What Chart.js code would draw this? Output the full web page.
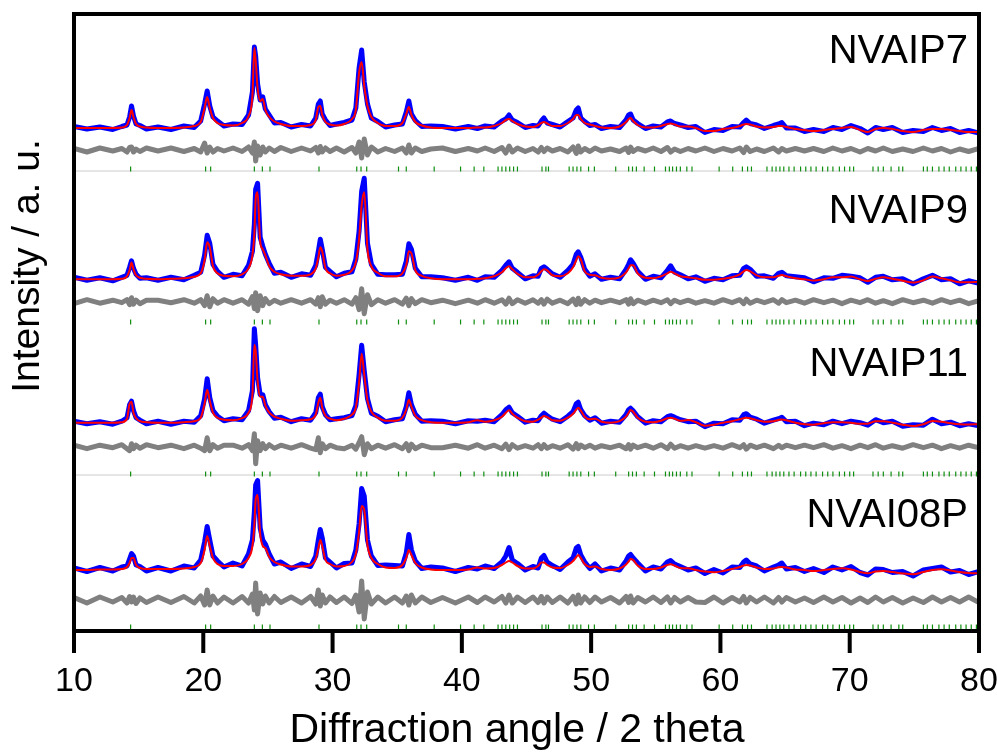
<!DOCTYPE html>
<html>
<head>
<meta charset="utf-8">
<script src="https://cdn.jsdelivr.net/npm/chart.js@4.4.1/dist/chart.umd.min.js"></script>
<style>
  html, body { margin: 0; padding: 0; background: #fff; }
  canvas { display: block; }
</style>
</head>
<body>
<canvas id="myChart" width="997" height="753"></canvas>
<script>
// 2 theta grid shared by all four refinements
const angle = [
  10, 11, 12, 13, 13.7, 14.1, 14.3, 14.45, 14.6, 14.8, 15.1, 15.6,
  16.5, 17.5, 18.5, 19.3, 19.8, 20.1, 20.3, 20.5, 20.75, 21.1, 21.6,
  22.3, 23.0, 23.5, 23.8, 23.95, 24.05, 24.2, 24.4, 24.6, 24.8, 25.1, 25.5, 26.0,
  26.8, 27.6, 28.3, 28.7, 28.9, 29.05, 29.2, 29.45, 29.8, 30.3,
  30.9, 31.5, 31.8, 32.05, 32.25, 32.45, 32.7, 33.0, 33.5, 34.1,
  34.8, 35.4, 35.7, 35.9, 36.1, 36.4, 36.9, 37.6,
  38.5, 39.5, 40.5, 41.2, 41.8, 42.5, 43.1, 43.4, 43.65, 43.9, 44.3, 44.9,
  45.5, 45.9, 46.15, 46.35, 46.6, 47.0, 47.6, 48.2, 48.6, 48.85, 49.0, 49.2, 49.5, 49.9, 50.3, 50.8,
  51.5, 52.2, 52.7, 52.9, 53.05, 53.25, 53.6, 54.2, 54.8, 55.4, 55.9, 56.15, 56.45, 56.9, 57.5, 58.1,
  58.8, 59.5, 60.2, 60.9, 61.5, 61.8, 62.0, 62.3, 62.8, 63.4, 64.1, 64.5, 64.75, 65.1, 65.8,
  66.5, 67.2, 68.0, 68.7, 69.4, 70.1, 70.8, 71.4, 72.0, 72.6, 73.3, 74.1, 74.9, 75.7, 76.4, 77.1, 77.8, 78.5, 79.2, 80
];

const sampleNames = ['NVAIP7', 'NVAIP9', 'NVAIP11', 'NVAI08P'];
const angleTicks = [10, 20, 30, 40, 50, 60, 70, 80];

// NVAIP7
const p7Obs = [
  1.5, -1, 1, -1.5, 1.5, 3, 11, 22, 12, 4, 2.5, -1,
  1, -1.5, 2, 0.5, 7, 24, 37, 22, 11, 7, 2,
  4, 3.5, 13, 36, 81, 72, 44, 28, 31, 19, 13, 5, 5.5,
  1, 3.5, 2, 10, 24, 27, 14, 8, 2.5, 4,
  5.5, 8, 20, 60, 78, 46, 24, 10, 6.5, 1,
  3, 4, 16, 27, 14, 7.5, 1.5, 2,
  1.5, -1, 1.5, -0.5, 2, 1, 7, 9, 13, 8, 5.5, 0.5,
  2.5, 2, 7, 10, 5, 3.5, 1, 6.5, 10, 18, 20, 10, 6.5, 2.5, 3.5, -0.5,
  1.5, 0.5, 8, 13, 14, 8, 4.5, -0.5, 2, 1, 6, 7, 4.5, 3, 0.5, 1.5,
  -4.5, -1.5, -2.5, 1.5, 1, 5.5, 8, 4.5, 3, -0.5, 2.5, 4, 5.5, 0, 0,
  -3.5, -1.5, -3.5, 0.5, -1.5, 2.5, -0.5, -5, 0.5, -1.5, 0.5, -4.5, -2.5, -3.5, 0.5, -2.5, -0.5, -4.5, -2.5, -5
];
const p7Calc = [
  0, 0, 0, 0, 0.5, 3, 10, 18, 11, 4, 1.5, 0.5,
  0, 0, 0.5, 2, 6, 20, 31, 20, 10, 5, 3,
  2.5, 5, 12, 32, 80, 68, 40, 27, 29, 18, 11, 6.5, 4,
  2, 2, 3, 8, 21, 22, 13, 6, 3.5, 2.5,
  4, 9, 18, 55, 66, 42, 22, 11, 5, 2,
  2, 5, 14, 21, 13, 6, 2.5, 0.5,
  0, 0, 0, 0.5, 0.5, 2, 5, 8, 9, 7, 4, 1.5,
  1, 3, 5, 6, 4.5, 2, 2, 5, 9, 13, 13, 9, 5, 3.5, 2, 0.5,
  0, 1.5, 6, 9, 10, 7, 3, 0.5, 0.5, 2, 4, 4.5, 3.5, 1.5, 1.5, 0,
  -3, -3, -1, 0, 2, 3.5, 4, 3.5, 1.5, 0.5, 1, 2, 2, 1, -1,
  -2, -3, -2, -1, 0, 1, -2, -4, -1, 0, -1, -3, -4, -2, -1, -1, -2, -3, -4, -4
];
const p7Diff = [
  1.5, -2, 2, -1, 1.5, -2, 2.5, 3, -2, 1, -1.5, 2,
  -1, 2, -1.5, 1.5, -2, 7, -3, 3, -2, 1.5, -1,
  2, -1.5, 3, -3, 8, -11, 4, -5, 3, -2, 2, -1.5, 2.5,
  -1.5, 2, -1, 2.5, -3, 3.5, -2, 2, -1.5, 2,
  -2, 2.5, -3, 8, -8, 11, -5, 3, -2, 1.5,
  -1.5, 2, -3, 5, -3, 2, -1.5, 1,
  2, -1.5, 1.5, -1, 2, -1.5, 2.5, -3, 4, -2, 2, -1.5,
  1.5, -2, 2.5, -1.5, 2, -1, 1.5, -2, 3, -3.5, 4, -2, 1.5, -1.5, 2, -1,
  1, -1.5, 2, -2.5, 3, -1.5, 1.5, -1, 2, -1.5, 2.5, -2, 1, -1.5, 1.5, -1,
  2, -1.5, 1.5, -1, 2, -2.5, 3, -1.5, 1, -1.5, 2, -2, 1.5, -1, 1.5,
  -1, 1.5, -1.5, 2, -1, 1.5, -2, 1.5, -1, 2, -1.5, 1, -1.5, 2, -1, 1.5, -2, 1, -1.5, 1.5
];

// NVAIP9
const p9Obs = [
  2, -1, 1.5, -1.5, 2, 4, 12, 18.5, 11, 5, 1, 1.5,
  -1, 2, -0.5, 4, 7, 24, 44, 36, 15, 8, 2,
  5, 3.5, 14, 28, 55, 90, 96, 42, 33, 25, 16, 6, 7,
  2, 5.5, 4, 14, 28, 40, 30, 12, 8, 2.5,
  6, 7.5, 20, 48, 88, 101, 36, 15, 5, 4.5,
  4.5, 5, 18, 35.5, 30, 11, 2.5, 2.5,
  1.5, -1, 2, -1, 2.5, 2, 9, 14, 17.5, 11, 7, 0.5,
  3.5, 3, 11, 12.5, 10, 5.5, 2, 9, 15, 25, 27.5, 22, 10, 3, 5.5, 0,
  2, 0.5, 10, 15, 19.5, 16, 8, 0, 3, 1.5, 9, 13.5, 7, 4.5, 0.5, 2.5,
  -2, 1, -0.5, 3.5, 4, 11, 12.5, 10, 3, 3.5, 1, 6, 7, 3.5, 2.5,
  1.5, -2.5, 1.5, 1, 4, 3, 1.5, -3, 2, 3, -0.5, 0.5, -4.5, 0.5, 4, -0.5, 0.5, -4.5, -1.5, -4
];
const p9Calc = [
  0, 0, 0, 0, 0.5, 3, 9, 16.7, 10, 4, 1.5, 0.5,
  0, 0.5, 1, 2.5, 6, 19, 37, 32, 13, 6, 3.5,
  3, 5, 11, 24, 45, 80, 87, 38, 30, 24, 13, 7.5, 5,
  3.5, 3.5, 5, 11, 22, 32, 28, 11, 6, 3.5,
  4.5, 9, 17, 40, 74, 87, 30, 13, 6.5, 3,
  3, 6, 14, 28, 26, 9, 3.5, 1,
  0, 0, 0, 0.5, 1, 3, 7, 11, 13, 10, 5.5, 2,
  2, 4.5, 8, 10, 9, 4, 3, 6, 12, 19, 23, 20, 8, 4.5, 4, 1.5,
  0.5, 2, 7, 11, 14, 14, 6, 1.5, 1, 3, 6, 7.5, 6, 3, 2, 1,
  -0.5, -0.5, 0.5, 2, 5, 8, 9.3, 8, 4, 2, 2, 3.5, 4.3, 3, 1,
  0, -1.3, 0, 2, 2, 2.7, 0, -1.7, 0.5, 2, 0.5, -1.5, -3.3, -1, 2.7, 1, -1, -3, -3, -2.5
];
const p9Diff = [
  -2, 2, -1.5, 1.5, -1, 2, -3, 4, -2.5, 1.5, -2, 1.5,
  1.5, -1, 2, -1.5, 2, -4, 6, -5, 3, -1.5, 2,
  -1.5, 2, -2.5, 5, -7, 9, -9, 6, -4, 3, -2, 1.5, -1.5,
  2, -1.5, 2, -2.5, 4, -5, 5, -2.5, 1.5, -1.5,
  2, -2.5, 4, -8, 13, -12, 7, -3, 2, -1.5,
  2, -2.5, 3.5, -4, 3, -2, 2, -1,
  1.5, -2, 1.5, -1.5, 2, -1.5, 2, -2.5, 3.5, -2, 2, -1.5,
  2, -1.5, 2, -2.5, 2.5, -1.5, 1.5, -2, 2.5, -3, 3.5, -2.5, 2, -1.5, 1.5, -1,
  1.5, -1, 2, -2.5, 3, -2, 1.5, -1.5, 1.5, -1, 2, -2, 1.5, -1, 1.5, -1.5,
  1, -1.5, 2, -1, 2, -2, 2.5, -1.5, 1.5, -1, 2, -1.5, 2, -1, 1.5,
  -1.5, 2, -1, 1.5, -2, 1.5, -1, 2, -1.5, 1, -2, 2, -1, 1.5, -1.5, 2, -1, 1.5, -2, 1
];

// NVAIP11
const p11Obs = [
  1.5, -1, 1, -1.5, 1.5, 5, 18, 21.5, 12, 5, 2.5, -1,
  1.5, -1.5, 1.5, 0.5, 7, 24, 44, 25, 12, 6.5, 2,
  4, 3, 12, 32, 94, 78, 45, 28, 28, 18, 11, 4.5, 5.5,
  1, 4, 2.5, 10, 25, 28.5, 16, 8, 3, 4,
  5, 7, 17, 48, 77.5, 52, 24, 9.5, 6.5, 1,
  3, 4, 16, 30, 18, 8.5, 1.5, 2,
  1.5, -1, 2, 1.5, 2.5, 1, 8, 13, 15.5, 10, 6.5, 0.5,
  2.5, 2, 7, 9.5, 7, 3.5, 1, 6.5, 11, 19, 20.5, 13, 7, 2.5, 5, -0.5,
  1.5, 0.5, 8, 13, 14.5, 12, 6, -0.5, 2, 1, 6, 7, 5.5, 3, 1, 1.5,
  -4, -0.5, -1, 3, 2.5, 8, 9, 5.5, 3.5, -0.5, 2.5, 4, 5.5, 1, 1.5,
  -3, -0.5, -2, 1.5, -1, 1.5, 0, -2.5, 3, 0, 1.5, -3.5, -2, -2.5, 3.5, -1, 0.5, -3, -1, -3
];
const p11Calc = [
  0, 0, 0, 0, 0.5, 4, 19, 21, 10, 4.5, 1.5, 0.5,
  0, 0, 0.5, 1.5, 5, 19, 33, 22, 10, 5, 3,
  2.5, 4.5, 10, 28, 78, 72, 42, 26, 26, 17, 10, 6, 4,
  2, 2.5, 3.5, 8, 20, 25, 15, 7, 4, 2.5,
  4, 8, 15, 40, 69, 48, 22, 11, 5, 2,
  2, 5, 13, 23, 16, 7, 2.5, 0.5,
  0, 0, 0.5, 2.5, 1, 2.5, 6, 10, 12.5, 9, 5, 1.5,
  1, 3, 5, 6.6, 5.5, 2.5, 2, 5, 9, 13, 15, 12, 6, 3.5, 4, 1,
  0, 1.5, 6, 10, 12.8, 11, 5, 1, 0.5, 2, 4.5, 5, 4, 2, 2.6, 0.5,
  -3, -2, 0, 1.5, 3.5, 4.5, 5, 4.5, 2.5, 1, 1.5, 2.8, 3.3, 2.5, 0,
  -1.5, -2, -0.5, 0.5, 0.5, 0, -1, -1, 1.5, 1.5, 0, -2, -3.3, -1.5, 1.7, 1, -0.5, -1.5, -1.7, -1.5
];
const p11Diff = [
  1.5, -2, 1.5, -1, 2, -2, -4, 3, -2, 1.5, -1.5, 2,
  -1, 1.5, -2, 1.5, -1.5, -4, 9, -4, 2, -1.5, 1.5,
  1.5, -1.5, 2, -4, 13, -17, 6, -4, 3, -2, 2, -1.5, 1.5,
  -1.5, 2, -1.5, -3, 9, -6, 3, -2, 1.5, -1,
  -2, 1.5, -2.5, 4, 10, -8, 3, -2, 1.5, -1.5,
  2, -2, 3, -4, 2.5, -2, 1.5, -1,
  -1, 1.5, -1.5, 2, -1.5, 1.5, -2, 2.5, -3, 2, -1.5, 1,
  -1.5, 2, -2, 2, -1.5, 1, -1.5, 2, -2.5, 3, -2, 1.5, -1, 1.5, -1.5, 1,
  -1, 1.5, -2, 2, -2.5, 1.5, -1, 1.5, -1.5, 2, -2, 2.5, -1.5, 1, -1.5, 1,
  -1.5, 1, -1.5, 2, -1, 2, -2.5, 1.5, -1, 1.5, -2, 1.5, -1, 1.5, -1,
  1.5, -1, 2, -1.5, 1, -2, 1.5, -1, 2, -1.5, 1, -1.5, 2, -1, 1.5, -2, 1, -1.5, 1.5, -1
];

// NVAI08P
const p08Obs = [
  2, -1.5, 2.5, -1, 3, 4, 11, 16.5, 14, 5, 3.5, -1,
  2.5, -1, 4, 2, 10, 28, 43.5, 30, 14, 9, 3,
  7, 4, 16, 30, 58, 85, 89.5, 42, 30, 26, 16, 6, 8,
  1.5, 6, 3.5, 14, 30, 40.5, 32, 12, 8, 2,
  6.5, 7, 20, 46, 81.5, 74, 30, 14, 4.5, 5,
  4.5, 4, 17, 35.5, 20, 9, 1.5, 3,
  2, -1.5, 2.5, 1, 4, 1.5, 8, 14, 22.5, 10, 6.5, 0,
  3.5, 2, 12, 14.5, 8, 4.5, 0.5, 8, 12, 22, 23.5, 15, 8, 1.5, 6, -1,
  2, 0, 9, 14, 15.5, 12, 7, -1, 3, 1, 8, 9.5, 6, 3.5, 0, 2,
  -3.5, 0.5, -3, 3, 2.5, 8, 10, 6, 4, -1, 3, 5, 7, 1, 2.5,
  -1.5, 1.5, -2.5, 3, 0, 3.5, -2.5, -5, 1, 0.5, -2.5, -1.5, -6, 0, 1.5, 3, -2, -0.5, -4.5, -1.5
];
const p08Calc = [
  0, 0, 0.5, 0.5, 1, 3, 7, 12, 12, 5, 2, 1,
  1, 1, 1.5, 3, 7, 20, 34, 24, 12, 6, 4,
  4, 6, 12, 24, 45, 70, 75, 36, 24, 22, 13, 8, 5.5,
  3.5, 3.5, 5, 11, 22, 30, 24, 10, 6, 3.5,
  4, 8, 16, 38, 64, 60, 25, 12, 6, 2.5,
  2, 5, 12, 20, 15, 7, 2.5, 0.5,
  0, 0, 0.5, 2.5, 1.5, 2, 5, 7.5, 9, 7.5, 4, 1.5,
  1.5, 4, 7.5, 7.5, 5, 2.5, 2, 5, 9, 13, 15, 12, 6, 3, 3.4, 1,
  0, 1.5, 5.5, 8.5, 11, 10, 4.5, 1, 1, 2.5, 5, 5.7, 4.5, 2, 1.7, 0,
  -1.5, -2.3, -1, 1, 3, 4.5, 5, 4.5, 2.5, 1, 1.5, 2.7, 3, 2.5, 0.5,
  0, -1, 0, 1, 1.7, 0.5, -2, -3.3, -1.5, -1, -2, -3.5, -4.3, -2, 0, 0.7, -0.5, -2, -3, -3.3
];
const p08Diff = [
  2.5, -3, 3, -2, 2.5, -3, 3.5, -2, 3, -3.5, 2, -2.5,
  3, -2.5, 3.5, -3, 4, -5, 10, -5, 4, -3, 3,
  -3, 3.5, -3, 6, -10, 17, -14, 7, -4, 4, -3, 3.5, -2.5,
  3, -3, 3.5, -4, 10, -6, 5, -3, 3, -2.5,
  3, -3.5, 5, -12, 19, -19, 8, -4, 3, -3,
  3, -3, 4, -5, 5, -3, 3, -2.5,
  2.5, -3, 3, -2.5, 3, -2, 3.5, -3, 5, -3, 3, -2.5,
  3, -2.5, 3.5, -3, 3, -2.5, 3, -3, 3.5, -4, 5, -3, 3, -2.5, 3, -2,
  2.5, -3, 3.5, -2.5, 4, -3, 2.5, -2, 3, -2.5, 3, -3, 2.5, -2, 2.5, -2,
  -2.5, 3, -3, 2.5, -2, 3.5, -3, 2.5, -2, 3, -3, 2.5, -2, 2.5, -2,
  2, -2.5, 3, -2, 2.5, -3, 2, -2.5, 3, -2, 2.5, -3, 2, -2.5, 3, -2, 2.5, -2, 3, -2.5
];

// Bragg reflection positions (green markers)
const reflections = [
  14.38, 20.18, 20.57, 23.95, 24.57, 25.16, 28.95, 31.87, 32.2, 32.64, 35.1, 35.7,
  37.86, 39.9, 40.95, 41.7, 42.8, 43.1, 43.4, 43.7, 44.0, 44.3, 46.2, 46.5, 46.7,
  48.3, 48.6, 48.9, 49.2, 49.8, 50.25, 51.9, 52.9, 53.2, 53.5, 54.1, 54.9,
  55.75, 56.05, 56.3, 56.6, 56.9, 57.4, 57.8, 59.9, 60.95, 61.7, 62.1, 62.4,
  63.6, 64.0, 64.3, 64.6, 64.9, 65.3, 65.7, 66.2, 66.6, 67.0, 67.4, 67.9, 68.3, 68.7,
  69.2, 69.6, 70.0, 70.3, 71.8, 72.2, 72.6, 73.2, 73.8, 74.1, 75.7, 76.0, 76.4, 76.9,
  77.3, 77.7, 78.2, 78.6, 79.0, 79.4, 79.8
];

// vertical stacking (plot units, 1 unit = 1 px)
const obsLevel = [503, 351.7, 208.3, 61];
const diffLevel = [481, 329.3, 184.3, 31];
const tickLevel = [462, 309, 157, 4];
const guideLevel = [460, 156];
const nameBaseline = [63, 223, 376, 527];

const obsSets = [p7Obs, p9Obs, p11Obs, p08Obs];
const calcSets = [p7Calc, p9Calc, p11Calc, p08Calc];
const diffSets = [p7Diff, p9Diff, p11Diff, p08Diff];

[...obsSets, ...calcSets, ...diffSets].forEach((arr, i) => {
  if (arr.length !== angle.length) throw new Error('array ' + i + ' has ' + arr.length + ' values, expected ' + angle.length);
});

const shift = (arr, off) => arr.map((v, i) => ({ x: angle[i], y: v + off }));

const datasets = [];
sampleNames.forEach((name, k) => {
  datasets.push({
    label: name + ' calc', data: shift(calcSets[k], obsLevel[k]),
    borderColor: '#ff0000', borderWidth: 2, pointRadius: 0,
    cubicInterpolationMode: 'monotone', order: 0
  });
  datasets.push({
    label: name + ' obs', data: shift(obsSets[k], obsLevel[k]),
    borderColor: '#0000ff', borderWidth: 5, pointRadius: 0, tension: 0,
    borderJoinStyle: 'round', order: 1
  });
  datasets.push({
    label: name + ' diff', data: shift(diffSets[k], diffLevel[k]),
    borderColor: '#808080', borderWidth: 5, pointRadius: 0, tension: 0,
    borderJoinStyle: 'round', order: 2
  });
  datasets.push({
    label: name + ' hkl', data: reflections.map(r => ({ x: r, y: tickLevel[k] })),
    showLine: false, pointStyle: 'line', rotation: 90, pointRadius: 2.5,
    borderColor: '#0f8f0f', borderWidth: 1.2, order: 3
  });
});
guideLevel.forEach(g => {
  datasets.push({
    label: 'guide', data: [{ x: 10, y: g }, { x: 80, y: g }],
    borderColor: '#cccccc', borderWidth: 1, pointRadius: 0, order: 4
  });
});

const decor = {
  id: 'decor',
  afterDraw(chart) {
    const { ctx, chartArea: a } = chart;
    const xs = chart.scales.x;
    ctx.save();
    ctx.strokeStyle = '#000000';
    ctx.lineWidth = 4;
    ctx.strokeRect(a.left, a.top, a.right - a.left, a.bottom - a.top);
    // outward tick marks on the angle axis
    ctx.fillStyle = '#000000';
    angleTicks.forEach(v => {
      const px = xs.getPixelForValue(v);
      ctx.fillRect(px - 2, a.bottom, 4, 22);
    });
    ctx.font = '40px "Liberation Sans", Arial, sans-serif';
    ctx.textAlign = 'right';
    ctx.textBaseline = 'alphabetic';
    sampleNames.forEach((n, i) => ctx.fillText(n, 968, nameBaseline[i]));
    ctx.textAlign = 'center';
    ctx.font = '41px "Liberation Sans", Arial, sans-serif';
    ctx.fillText('Diffraction angle / 2 theta', 517, 742);
    ctx.translate(28, 266);
    ctx.rotate(-Math.PI / 2);
    ctx.font = '39px "Liberation Sans", Arial, sans-serif';
    ctx.textBaseline = 'middle';
    ctx.fillText('Intensity / a. u.', 0, 0);
    ctx.restore();
  }
};

const config = {
  type: 'line',
  data: { datasets: datasets },
  options: {
    responsive: false,
    animation: false,
    layout: { padding: { left: 74, right: 18, top: 14, bottom: 0 } },
    plugins: {
      legend: { display: false },
      tooltip: { enabled: false }
    },
    scales: {
      x: {
        type: 'linear',
        min: 10,
        max: 80,
        afterFit: (scale) => {
          scale.height = 122;
          scale.paddingLeft = 0;
          scale.paddingRight = 0;
        },
        ticks: {
          stepSize: 10,
          padding: 30,
          color: '#000',
          font: { family: '"Liberation Sans", Arial, sans-serif', size: 34 }
        },
        grid: { display: false, drawTicks: false },
        border: { display: false }
      },
      y: {
        display: false,
        min: 0,
        max: 617
      }
    }
  },
  plugins: [decor]
};

const myChart = new Chart(document.getElementById('myChart'), config);
</script>
</body>
</html>
